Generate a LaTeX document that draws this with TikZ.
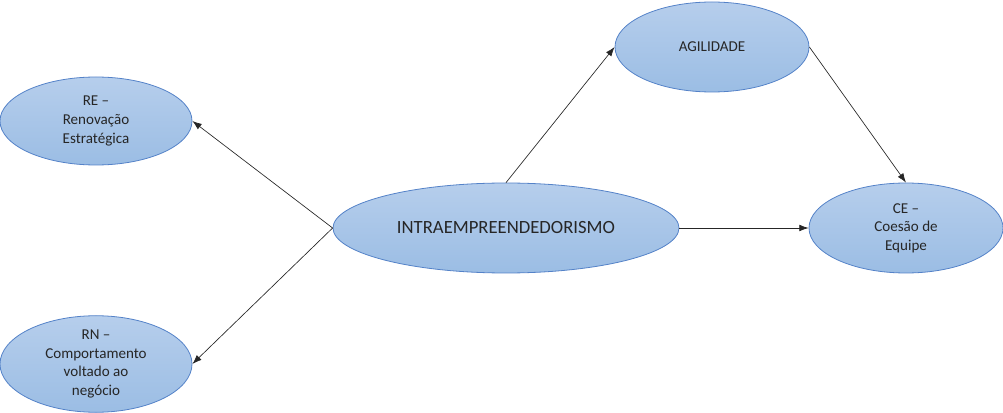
\documentclass[tikz,border=0pt]{standalone}
\usepackage{fontspec}
\setmainfont{Carlito}
\usetikzlibrary{shapes.geometric,arrows.meta}
\definecolor{topc}{RGB}{182,206,236}
\definecolor{botc}{RGB}{155,189,228}
\definecolor{edgec}{RGB}{84,130,200}
\tikzset{
  oval/.style={ellipse, draw=edgec, line width=0.6pt, top color=topc, bottom color=botc,
    inner sep=0pt, align=center, font=\fontsize{11.3}{14}\selectfont, text=black!85},
  arr/.style={-{Latex[length=7pt,width=5pt]}, line width=0.5pt, draw=black!85}
}
\begin{document}
\begin{tikzpicture}[x=0.75pt,y=-0.75pt]
\useasboundingbox (0,0) rectangle (1003,413);
\node[oval, minimum width=192*0.75pt, minimum height=88*0.75pt] (re) at (96,121) {RE –\\Renovação\\Estratégica};
\node[oval, minimum width=192*0.75pt, minimum height=92*0.75pt] (rn) at (96,364) {RN –\\Comportamento\\voltado ao\\negócio};
\node[oval, minimum width=346*0.75pt, minimum height=90*0.75pt, font=\fontsize{14}{16}\selectfont] (intra) at (506,228) {INTRAEMPREENDEDORISMO};
\node[oval, minimum width=194*0.75pt, minimum height=90*0.75pt] (agil) at (712,47) {AGILIDADE};
\node[oval, minimum width=194*0.75pt, minimum height=90*0.75pt] (ce) at (906,228) {CE –\\Coesão de\\Equipe};
\draw[arr] (intra.west) -- (re.east);
\draw[arr] (intra.west) -- (rn.east);
\draw[arr] (intra.north) -- (agil.west);
\draw[arr] (agil.east) -- (ce.north);
\draw[arr] (intra.east) -- (ce.west);
\end{tikzpicture}
\end{document}
